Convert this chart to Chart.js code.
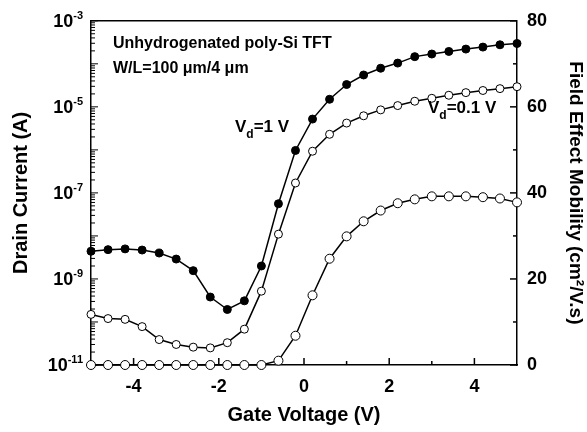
<!DOCTYPE html>
<html>
<head>
<meta charset="utf-8">
<title>Unhydrogenated poly-Si TFT</title>
<script src="https://cdn.jsdelivr.net/npm/chart.js@4.4.1/dist/chart.umd.min.js"></script>
<style>
  html, body { margin: 0; padding: 0; background: #fff; }
  #wrap { width: 587px; height: 432px; }
</style>
</head>
<body>
<div id="wrap"><canvas id="tftChart" width="587" height="432"></canvas></div>
<script>
// Gate voltage sweep (V)
const gateVoltage = [-5.0, -4.6, -4.2, -3.8, -3.4, -3.0, -2.6, -2.2, -1.8, -1.4, -1.0, -0.6, -0.2,
                     0.2, 0.6, 1.0, 1.4, 1.8, 2.2, 2.6, 3.0, 3.4, 3.8, 4.2, 4.6, 5.0];

// Drain current (A), Vd = 1 V (filled circles)
const drainCurrentVd1 = [4.4e-9, 4.8e-9, 5.0e-9, 4.7e-9, 4.0e-9, 2.9e-9, 1.56e-9, 3.8e-10, 1.95e-10, 3.1e-10,
                         2.0e-9, 5.6e-8, 9.7e-7, 5.2e-6, 1.5e-5, 3.3e-5, 5.5e-5, 7.9e-5, 1.04e-4, 1.47e-4,
                         1.69e-4, 1.94e-4, 2.2e-4, 2.45e-4, 2.77e-4, 2.97e-4];

// Drain current (A), Vd = 0.1 V (open circles)
const drainCurrentVd01 = [1.5e-10, 1.2e-10, 1.15e-10, 7.8e-11, 3.9e-11, 3.0e-11, 2.6e-11, 2.5e-11, 3.3e-11, 6.8e-11,
                          5.2e-10, 1.1e-8, 1.7e-7, 9.3e-7, 2.3e-6, 4.2e-6, 6.2e-6, 8.5e-6, 1.07e-5, 1.35e-5,
                          1.58e-5, 1.86e-5, 2.14e-5, 2.4e-5, 2.65e-5, 2.94e-5];

// Field effect mobility (cm2/V.s), Vd = 0.1 V
const mobilityVd01 = [0, 0, 0, 0, 0, 0, 0, 0, 0, 0,
                      0, 1.0, 6.8, 16.2, 24.7, 29.9, 33.4, 35.9, 37.6, 38.5,
                      39.2, 39.2, 39.2, 39.0, 38.7, 37.8];

// Axis ticks
const xTickValues = [-4, -2, 0, 2, 4];
const xMinorTicks = [-3, -1, 1, 3];
const yDecades = [-11, -10, -9, -8, -7, -6, -5, -4, -3];
const yLabelExponents = [-3, -5, -7, -9, -11];
const y2TickValues = [0, 20, 40, 60, 80];
const y2MinorTicks = [10, 30, 50, 70];

const FONT = "'Liberation Sans', Arial, Helvetica, sans-serif";
Chart.defaults.font.family = FONT;
Chart.defaults.color = '#000';

const toPoints = vals => gateVoltage.map((v, i) => ({ x: v, y: vals[i] }));

function seriesStyle(filled, radius) {
    return {
        borderColor: '#000',
        borderWidth: 1.5,
        pointRadius: radius,
        pointBorderWidth: 1,
        pointBorderColor: '#000',
        pointBackgroundColor: filled ? '#000' : '#fff',
        tension: 0,
        clip: false
    };
}

// Draws "V" + subscript + rest
function drawSubLabel(ctx, x, y, main, sub, rest, size) {
    ctx.textAlign = 'left';
    ctx.textBaseline = 'alphabetic';
    ctx.font = `bold ${size}px ${FONT}`;
    ctx.fillText(main, x, y);
    x += ctx.measureText(main).width;
    ctx.font = `bold ${Math.round(size * 0.7)}px ${FONT}`;
    ctx.fillText(sub, x, y + 6);
    x += ctx.measureText(sub).width;
    ctx.font = `bold ${size}px ${FONT}`;
    ctx.fillText(rest, x, y);
}

const decorPlugin = {
    id: 'decor',
    beforeDatasetsDraw(chart) {
        const { ctx, chartArea: a, scales } = chart;
        const tick = (x1, y1, x2, y2) => {
            ctx.beginPath();
            ctx.moveTo(x1, y1);
            ctx.lineTo(x2, y2);
            ctx.stroke();
        };
        ctx.save();
        ctx.strokeStyle = '#000';
        ctx.lineWidth = 1.5;
        // top border
        tick(a.left, a.top, a.right, a.top);

        // bottom ticks, pointing inward
        xTickValues.forEach(v => {
            const px = scales.x.getPixelForValue(v);
            tick(px, a.bottom, px, a.bottom - 7);
        });
        xMinorTicks.forEach(v => {
            const px = scales.x.getPixelForValue(v);
            tick(px, a.bottom, px, a.bottom - 4);
        });

        // log ticks on the left axis
        ctx.lineWidth = 1;
        yDecades.forEach(e => {
            const base = Math.pow(10, e);
            const py = scales.y.getPixelForValue(base);
            tick(a.left, py, a.left + 7, py);
            if (e < -3) {
                for (let m = 2; m <= 9; m++) {
                    const pm = scales.y.getPixelForValue(m * base);
                    tick(a.left, pm, a.left + 4, pm);
                }
            }
        });

        // right axis ticks
        ctx.lineWidth = 1.5;
        y2TickValues.forEach(v => {
            const py = scales.y2.getPixelForValue(v);
            tick(a.right, py, a.right - 7, py);
        });
        y2MinorTicks.forEach(v => {
            const py = scales.y2.getPixelForValue(v);
            tick(a.right, py, a.right - 4, py);
        });
        ctx.restore();
    },
    afterDraw(chart) {
        const { ctx, chartArea: a, scales } = chart;
        ctx.save();
        ctx.fillStyle = '#000';

        // 10^n labels for the log axis
        yLabelExponents.forEach(e => {
            const py = scales.y.getPixelForValue(Math.pow(10, e));
            ctx.font = `bold 11px ${FONT}`;
            const ew = ctx.measureText(String(e)).width;
            const ex = a.left - 8 - ew;
            ctx.textAlign = 'left';
            ctx.textBaseline = 'alphabetic';
            ctx.fillText(String(e), ex, py - 2);
            ctx.font = `bold 18px ${FONT}`;
            ctx.textAlign = 'right';
            ctx.fillText('10', ex, py + 6);
        });

        // device annotation
        ctx.font = `bold 16px ${FONT}`;
        ctx.textAlign = 'left';
        ctx.textBaseline = 'alphabetic';
        ctx.fillText('Unhydrogenated poly-Si TFT', a.left + 22, a.top + 27);
        ctx.fillText('W/L=100 \u03bcm/4 \u03bcm', a.left + 22, a.top + 52);

        // curve labels
        drawSubLabel(ctx, a.left + 144, a.top + 111, 'V', 'd', '=1 V', 17);
        drawSubLabel(ctx, a.left + 337, a.top + 92, 'V', 'd', '=0.1 V', 17);
        ctx.restore();
    }
};

const ctx = document.getElementById('tftChart').getContext('2d');
new Chart(ctx, {
    type: 'line',
    data: {
        datasets: [
            Object.assign({ label: 'Id, Vd=1 V', data: toPoints(drainCurrentVd1), yAxisID: 'y' }, seriesStyle(true, 4)),
            Object.assign({ label: 'Id, Vd=0.1 V', data: toPoints(drainCurrentVd01), yAxisID: 'y' }, seriesStyle(false, 4)),
            Object.assign({ label: 'Mobility', data: toPoints(mobilityVd01), yAxisID: 'y2' }, seriesStyle(false, 4.5))
        ]
    },
    options: {
        responsive: false,
        animation: false,
        layout: { padding: { top: 20, left: 0, right: 0, bottom: 0 } },
        plugins: {
            legend: { display: false },
            tooltip: { enabled: false }
        },
        scales: {
            x: {
                type: 'linear',
                position: 'bottom',
                min: -5,
                max: 5,
                afterBuildTicks: s => { s.ticks = xTickValues.map(v => ({ value: v })); },
                afterFit: s => { s.height = 67; },
                grid: { display: true, drawOnChartArea: false, drawTicks: false },
                border: { display: true, color: '#000', width: 1.5 },
                ticks: { font: { size: 18, weight: 'bold' }, padding: 11, maxRotation: 0 },
                title: {
                    display: true,
                    text: 'Gate Voltage (V)',
                    font: { size: 20, weight: 'bold' },
                    padding: { top: 0, bottom: 5 }
                }
            },
            y: {
                type: 'logarithmic',
                position: 'left',
                min: 1e-11,
                max: 1e-3,
                afterFit: s => { s.width = 91; },
                grid: { display: true, drawOnChartArea: false, drawTicks: false },
                border: { display: true, color: '#000', width: 1.5 },
                ticks: { display: false },
                title: {
                    display: true,
                    text: 'Drain Current (A)',
                    font: { size: 20, weight: 'bold' },
                    padding: { top: 9, bottom: 0 }
                }
            },
            y2: {
                type: 'linear',
                position: 'right',
                min: 0,
                max: 80,
                afterBuildTicks: s => { s.ticks = y2TickValues.map(v => ({ value: v })); },
                afterFit: s => { s.width = 70; },
                grid: { display: true, drawOnChartArea: false, drawTicks: false },
                border: { display: true, color: '#000', width: 1.5 },
                ticks: { font: { size: 18, weight: 'bold' }, padding: 10 },
                title: {
                    display: true,
                    text: 'Field Effect Mobility (cm\u00b2/V.s)',
                    font: { size: 19, weight: 'bold' },
                    padding: { top: 0, bottom: 0 }
                }
            }
        }
    },
    plugins: [decorPlugin]
});
</script>
</body>
</html>
